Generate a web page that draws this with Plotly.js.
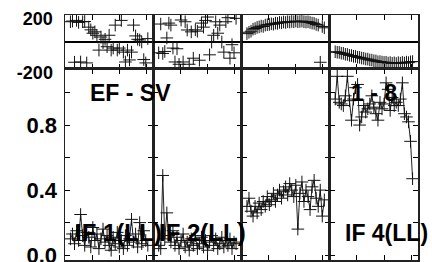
<!DOCTYPE html>
<html>
<head>
<meta charset="utf-8">
<script src="https://cdn.plot.ly/plotly-3.0.1.min.js"></script>
<style>html,body{margin:0;padding:0;background:#fff;}#chart{width:432px;height:262px;}</style>
</head>
<body>
<div id="chart"></div>
<script>
// channel positions (same for each IF)
var channels = [4,5.5,7,8.5,10,11.5,13,14.5,16,17.5,19,20.5,22,23.5,25,26.5,28,29.5,31,32.5,34,35.5,37,38.5,40,41.5,43,44.5,46,47.5,49,50.5,52,53.5,55,56.5,58,59.5,61];

// phase (degrees) per IF
var phaseIF1 = [150,155,-150,160,145,-148,150,152,-155,110,90,65,75,50,-60,37,-5,20,-35,50,-60,-45,125,-60,-45,160,-75,-148,-60,-133,-75,125,45,20,15,0,-130,-155,25];
var phaseIF2 = [-80,133,-85,-70,30,140,125,-45,-148,-50,-165,163,-148,150,89,-165,75,-120,90,80,-135,140,110,160,185,-95,0,50,150,65,125,0,-75,150,180,-120,-20,-80,175];
var phaseIF3 = [62,72,80,95,100,108,112,118,115,125,128,130,135,132,140,138,145,142,148,145,150,148,152,150,155,150,152,155,150,148,150,145,140,138,130,125,-150,115,105];
var phaseIF4 = [-72,-76,-77,-83,-84,-91,-92,-99,-100,-106,-107,-113,-114,-119,-121,-126,-127,-133,-134,-139,-140,-146,-145,-149,-151,-150,-156,-152,-158,-154,-159,-153,-157,-151,-156,-149,-153,-147,-145];

// coherence (amplitude) per IF
var cohIF1 = [0.10,0.13,0.07,0.15,0.09,0.25,0.12,0.06,0.14,0.11,0.05,0.17,0.09,0.13,0.04,0.10,0.16,0.08,0.12,0.06,0.03,0.11,0.07,0.14,0.05,0.09,0.04,0.12,0.06,0.10,0.22,0.08,0.13,0.05,0.20,0.07,0.15,0.09,0.06];
var cohIF2 = [0.06,0.04,0.49,0.10,0.26,0.12,0.08,0.15,0.06,0.11,0.04,0.09,0.13,0.05,0.08,0.03,0.10,0.06,0.12,0.04,0.07,0.11,0.05,0.09,0.03,0.08,0.12,0.06,0.10,0.04,0.07,0.11,0.05,0.09,0.06,0.10,0.04,0.08,0.07];
var cohIF3 = [0.30,0.35,0.27,0.24,0.30,0.26,0.32,0.28,0.33,0.30,0.36,0.31,0.34,0.38,0.33,0.37,0.40,0.35,0.39,0.42,0.37,0.44,0.40,0.36,0.43,0.16,0.38,0.45,0.33,0.40,0.36,0.28,0.42,0.46,0.35,0.30,0.40,0.24,0.34];
var cohIF4 = [0.96,1.10,0.94,0.93,0.92,0.98,1.10,0.95,0.83,0.96,1.03,1.05,0.80,0.85,0.92,0.88,0.90,0.93,0.98,0.91,0.87,0.83,0.94,0.90,0.93,1.06,1.02,0.89,0.97,0.92,0.94,0.92,0.96,1.06,0.87,0.85,0.82,0.70,0.47];

var ifLabels = ['IF 1(LL)', 'IF 2(LL)', 'IF 4(LL)'];
var baselineLabel = 'EF - SV';
var scanLabel = '1 - 8';

var phases = [phaseIF1, phaseIF2, phaseIF3, phaseIF4];
var cohs = [cohIF1, cohIF2, cohIF3, cohIF4];

var FONT = 'Liberation Sans, Arial, Helvetica, sans-serif';
var marker = {symbol: 'cross-thin-open', size: 9, color: '#111', line: {color: '#111', width: 1}};

var traces = [];
for (var i = 0; i < 4; i++) {
  traces.push({
    x: channels, y: phases[i], type: 'scatter', mode: 'markers',
    marker: marker, xaxis: 'x' + (i + 1), yaxis: 'y' + (i + 1),
    showlegend: false, hoverinfo: 'skip'
  });
  traces.push({
    x: channels, y: cohs[i], type: 'scatter', mode: 'lines+markers',
    marker: marker, line: {color: '#222', width: 1},
    xaxis: 'x' + (i + 5), yaxis: 'y' + (i + 5),
    showlegend: false, hoverinfo: 'skip'
  });
}

function boldFont(size) { return {family: FONT, size: size, color: '#000', weight: 'bold'}; }

var layout = {
  width: 432, height: 262,
  margin: {l: 65, r: 14, t: 15, b: 2},
  paper_bgcolor: '#fff', plot_bgcolor: '#fff',
  showlegend: false,
  font: {family: FONT, color: '#000'},
  annotations: [
    {text: '<b>' + baselineLabel + '</b>', xref: 'paper', yref: 'paper', x: 0.066, y: 0.68, xanchor: 'left', yanchor: 'middle', showarrow: false, font: boldFont(23)},
    {text: '<b>' + scanLabel + '</b>', xref: 'paper', yref: 'paper', x: 0.805, y: 0.68, xanchor: 'left', yanchor: 'middle', showarrow: false, font: boldFont(23)},
    {text: '<b>' + ifLabels[0] + '</b>', xref: 'paper', yref: 'paper', x: 0.024, y: 0.114, xanchor: 'left', yanchor: 'middle', showarrow: false, font: boldFont(24)},
    {text: '<b>' + ifLabels[1] + '</b>', xref: 'paper', yref: 'paper', x: 0.262, y: 0.114, xanchor: 'left', yanchor: 'middle', showarrow: false, font: boldFont(24)},
    {text: '<b>' + ifLabels[2] + '</b>', xref: 'paper', yref: 'paper', x: 0.788, y: 0.110, xanchor: 'left', yanchor: 'middle', showarrow: false, font: boldFont(23)}
  ]
};

var split = 0.7796;
for (var c = 0; c < 4; c++) {
  var d = [c * 0.25, (c + 1) * 0.25];
  var xa = {
    domain: d, range: [0, 65], tickvals: [20, 40, 60], showticklabels: false,
    ticks: 'inside', ticklen: 5, tickwidth: 1, tickcolor: '#000',
    showline: true, linecolor: '#222', linewidth: 1.5, mirror: 'ticks',
    showgrid: false, zeroline: false, fixedrange: true
  };
  var xTop = Object.assign({}, xa, {anchor: 'y' + (c + 1)});
  var xBot = Object.assign({}, xa, {anchor: 'y' + (c + 5)});
  layout['xaxis' + (c === 0 ? '' : (c + 1))] = xTop;
  layout['xaxis' + (c + 5)] = xBot;

  layout['yaxis' + (c === 0 ? '' : (c + 1))] = {
    domain: [split, 1], range: [-200, 200], anchor: 'x' + (c + 1),
    tickvals: [-200, 200], ticktext: ['<b>-200</b>', '<b>200</b>'], showticklabels: c === 0,
    ticks: '', ticklabelstandoff: 7, ticklabelshift: 4, ticklabeloverflow: 'allow',
    tickfont: boldFont(18),
    showline: true, linecolor: '#222', linewidth: 1.5, mirror: true,
    showgrid: false, zeroline: true, zerolinecolor: '#000', zerolinewidth: 1.2, fixedrange: true
  };
  layout['yaxis' + (c + 5)] = {
    domain: [0, split], range: [-0.03, 1.145], anchor: 'x' + (c + 5),
    tickvals: [0, 0.2, 0.4, 0.6, 0.8, 1.0], ticktext: ['<b>0.0</b>', '', '<b>0.4</b>', '', '<b>0.8</b>', ''],
    showticklabels: c === 0,
    ticks: 'inside', ticklen: 5, tickwidth: 1, tickcolor: '#000',
    ticklabelstandoff: 2, ticklabelshift: 0, ticklabeloverflow: 'allow',
    tickfont: boldFont(22),
    showline: true, linecolor: '#222', linewidth: 1.5, mirror: 'ticks',
    showgrid: false, zeroline: false, fixedrange: true
  };
}

Plotly.newPlot('chart', traces, layout, {staticPlot: true, displayModeBar: false});
</script>
</body>
</html>
